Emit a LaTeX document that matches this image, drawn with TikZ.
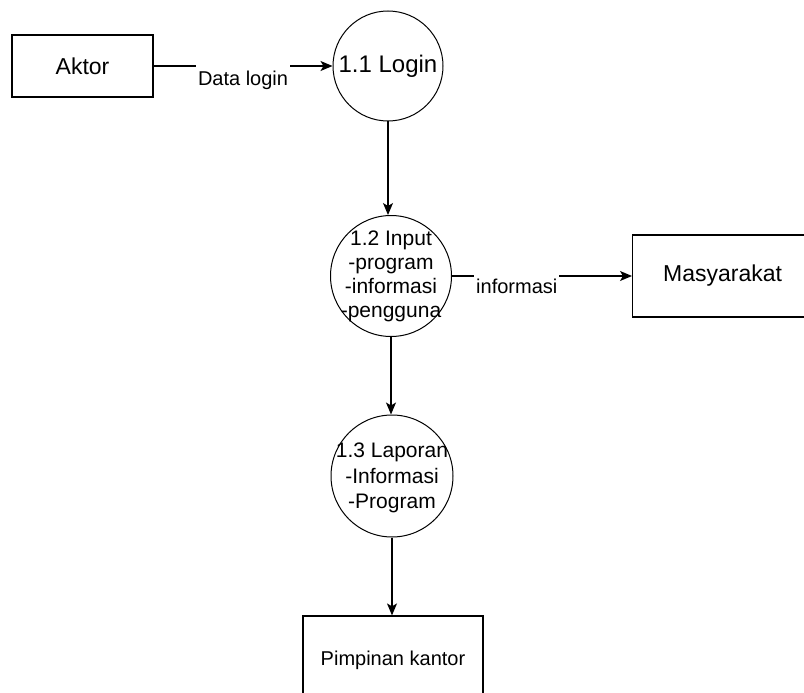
\documentclass[tikz,border=0pt]{standalone}
\usepackage{fontspec}
\setmainfont{Liberation Sans}
\usetikzlibrary{arrows.meta}
\begin{document}
\begin{tikzpicture}[x=1pt,y=-1pt,
  entity/.style={draw, line width=1.2pt, rectangle, inner sep=0pt},
  proc/.style={draw, line width=1pt, circle, inner sep=0pt, minimum size=#1},
  proctext/.style={align=center, inner sep=0pt, font=\fontsize{21}{24}\selectfont},
  flow/.style={draw, line width=1.2pt, -{Stealth[length=12pt,width=10pt,inset=3pt]}},
  flowlabel/.style={fill=white, inner xsep=2pt, font=\fontsize{20}{24}\selectfont}]
\useasboundingbox (0,0) rectangle (804,693);
\clip (0,0) rectangle (804,693);

% external entities
\node[entity, minimum width=141pt, minimum height=62pt,
      font=\fontsize{23}{27}\selectfont] (aktor) at (82.5,66) {Aktor};
% Masyarakat box runs past the right margin; its text sits left of centre
\node[entity, minimum width=230pt, minimum height=82pt, anchor=west,
      font=\fontsize{23}{27}\selectfont] (masy) at (632,276)
      {Masyarakat\hspace*{50pt}};
\node[entity, minimum width=180pt, minimum height=88pt,
      font=\fontsize{20}{24}\selectfont] (pimp) at (393,660) {Pimpinan kantor};

% processes (text set separately so the circles keep their size)
\node[proc=110pt] (login) at (388,66) {};
\node[proctext, font=\fontsize{24}{28}\selectfont] (logintext) at (login.center) {1.1 Login};
\node[proc=121pt] (input) at (391,276) {};
\node[proctext] (inputtext) at (input.center)
  {1.2 Input\\-program\\-informasi\\-pengguna};
\node[proc=122pt] (lap) at (392,476) {};
\node[proctext, font=\fontsize{21}{25.5}\selectfont] (laptext) at ([yshift=-2pt]lap.center)
  {1.3 Laporan\\-Informasi\\-Program};

% data flows
\draw[flow] (aktor) -- node[flowlabel, inner ysep=8pt, yshift=-14pt] {Data login} (login);
\draw[flow] (login.south) -- (login.south |- input.north);
\draw[flow] (input) -- node[flowlabel, inner ysep=6pt, pos=0.36, yshift=-10pt] {informasi} (masy);
\draw[flow] (input.south) -- (input.south |- lap.north);
\draw[flow] (lap.south) -- (lap.south |- pimp.north);
\end{tikzpicture}
\end{document}
